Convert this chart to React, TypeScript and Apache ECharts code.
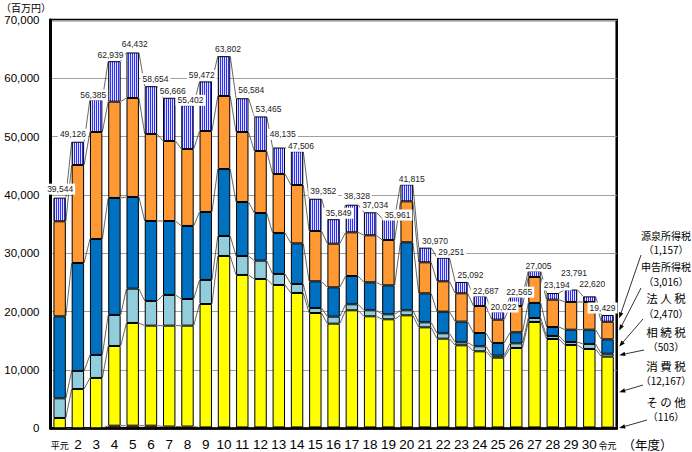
import React, { useEffect, useRef } from "react";
import * as echarts from "echarts";

const categories = ["平元", "2", "3", "4", "5", "6", "7", "8", "9", "10", "11", "12", "13", "14", "15", "16", "17", "18", "19", "20", "21", "22", "23", "24", "25", "26", "27", "28", "29", "30", "令元"];

// 百万円
const other = [0, 0, 0, 450, 450, 450, 300, 300, 150, 150, 150, 150, 150, 150, 150, 150, 150, 150, 150, 150, 150, 150, 150, 150, 150, 150, 150, 150, 150, 150, 116];
const consumption = [1770, 6740, 8630, 13660, 17610, 17150, 17300, 17300, 21160, 29390, 26140, 25450, 24420, 23050, 19620, 17790, 20080, 19050, 18540, 19220, 17160, 15220, 14080, 13050, 11960, 13620, 18080, 15160, 14140, 13450, 12167];
const inheritance = [3370, 3090, 3940, 5320, 5880, 4230, 5260, 4570, 4120, 3430, 3250, 3140, 1890, 1540, 860, 1200, 1030, 1030, 850, 860, 860, 920, 510, 860, 350, 800, 680, 520, 510, 860, 503];
const corporate = [14060, 18510, 19890, 20060, 15720, 13710, 12680, 12520, 11660, 11490, 9260, 8170, 7030, 6970, 4570, 5030, 4850, 4800, 4970, 11660, 4970, 3710, 3550, 2280, 2170, 1890, 2580, 1540, 2110, 2450, 2470];
const selfAssessed = [16290, 16800, 18340, 16510, 16970, 14920, 13720, 13200, 13880, 12510, 12000, 10630, 10110, 10000, 8630, 7480, 7490, 8060, 7780, 7020, 5320, 5200, 4850, 4630, 4000, 4510, 4450, 4690, 4750, 4750, 3016];
const withholding = [4054, 3986, 5585, 6939, 7802, 8194, 7406, 7512, 8502, 6832, 5784, 5925, 4535, 5796, 5522, 4199, 4728, 3944, 3671, 2905, 2510, 4051, 1952, 1717, 1392, 1595, 1065, 1134, 2131, 960, 1157];

const yTicks = [0, 10000, 20000, 30000, 40000, 50000, 60000, 70000];

// label placement (layout only)
const labelOffsets: number[][] = [[0.5, -3], [-5, -2], [-3, 1], [-4, -1], [2, -2.5], [4.5, -2], [3.5, -1], [3, 0.7], [-4, -0.5], [4, -2], [9, -2.4], [8, -1.6], [4, -7.7], [4, 0.6], [8, -2], [5, -0.5], [5, -3], [5, -1.6], [9, 2], [5, 0.3], [10, -1], [8, 0], [9, -1.4], [6, 0.6], [5.5, 1], [3, 1], [4, 0.8], [4, -2.5], [3, -11], [3, -6.8], [-5, -1.5]];

const fmt = (v: number) => Math.round(v).toLocaleString("en-US");
const LATIN = "'Liberation Sans', Arial, sans-serif";
const JP = "'Noto Sans CJK JP', sans-serif";

export default function App() {
  const ref = useRef<HTMLDivElement>(null);
  useEffect(() => {
    if (!ref.current) return;
    const chart = echarts.init(ref.current, undefined, { renderer: "svg" });

    const cv = document.createElement("canvas");
    cv.width = 2;
    cv.height = 4;
    const ctx = cv.getContext("2d")!;
    ctx.fillStyle = "#E0E0FF";
    ctx.fillRect(0, 0, 2, 4);
    ctx.fillStyle = "#2E2EFF";
    ctx.fillRect(0, 0, 1, 4);
    const hatch: any = { image: cv, repeat: "repeat", imageWidth: 2, imageHeight: 4 };

    const defs = [
      { name: "その他", data: other, color: "#993366" },
      { name: "消費税", data: consumption, color: "#FFFF00" },
      { name: "相続税", data: inheritance, color: "#92CDDC" },
      { name: "法人税", data: corporate, color: "#0070C0" },
      { name: "申告所得税", data: selfAssessed, color: "#FF9933" },
      { name: "源泉所得税", data: withholding, color: hatch },
    ];
    const n = categories.length;
    const cum: number[][] = [];
    let run = new Array(n).fill(0);
    defs.forEach((d) => {
      run = run.map((v, i) => v + d.data[i]);
      cum.push(run.slice());
    });
    const totals = cum[cum.length - 1];

    const lineData: number[][] = [];
    for (let i = 0; i < n - 1; i++) {
      lineData.push([i, ...cum.map((c) => c[i]), ...cum.map((c) => c[i + 1])]);
    }

    const barSeries = defs.map((d, k) => ({
      type: "bar",
      name: d.name,
      stack: "tax",
      barCategoryGap: "32%",
      itemStyle: { color: d.color, borderColor: "#000", borderWidth: 1 },
      data:
        k === defs.length - 1
          ? d.data.map((v, i) => ({ value: v, label: { offset: labelOffsets[i] } }))
          : d.data,
      label:
        k === defs.length - 1
          ? {
              show: true,
              position: "top",
              distance: 0,
              formatter: (p: any) => fmt(totals[p.dataIndex]),
              fontSize: 8.5,
              fontFamily: LATIN,
              color: "#222",
              backgroundColor: "#fff",
              padding: [1, 2],
            }
          : { show: false },
      z: 2,
    }));

    const option: any = {
      animation: false,
      grid: { left: 50.5, right: 75.3, top: 20, bottom: 23.7, show: true, borderColor: "#000", borderWidth: 2.5, backgroundColor: "transparent" },
      xAxis: {
        type: "category",
        data: categories,
        name: "（年度）",
        nameLocation: "end",
        nameGap: 3,
        nameTextStyle: { fontSize: 12.5, lineHeight: 12.5, fontFamily: JP, color: "#000", verticalAlign: "top", padding: [10, 0, 0, 0] },
        axisTick: { show: false },
        axisLine: { lineStyle: { color: "#000", width: 2.5 } },
        axisLabel: {
          interval: 0,
          margin: 9,
          fontSize: 13.5,
          fontFamily: LATIN,
          color: "#000",
          formatter: (v: string) => (v === "平元" || v === "令元" ? `{s|${v}}` : v),
          rich: { s: { fontSize: 9, fontFamily: JP, color: "#000", padding: [4, 0, 0, 0] } },
        },
      },
      yAxis: {
        type: "value",
        min: yTicks[0],
        max: yTicks[yTicks.length - 1],
        interval: yTicks[1] - yTicks[0],
        axisLine: { show: true, lineStyle: { color: "#000", width: 3 } },
        axisTick: { show: false },
        splitLine: { lineStyle: { color: "#A0A0A0", width: 1 } },
        axisLabel: { margin: 11, fontSize: 11.5, fontFamily: LATIN, color: "#000", formatter: (v: number) => fmt(v) },
      },
      series: [
        ...barSeries,
        {
          type: "custom",
          silent: true,
          z: 1,
          encode: { x: 0, y: 1 },
          data: lineData,
          renderItem: (params: any, api: any) => {
            const i = api.value(0);
            const band = api.size([1, 0])[0];
            const half = (band * 0.68) / 2;
            const children: any[] = [];
            for (let k = 0; k < 6; k++) {
              const a = api.coord([i, api.value(1 + k)]);
              const b = api.coord([i + 1, api.value(7 + k)]);
              children.push({
                type: "line",
                shape: { x1: a[0] + half, y1: a[1], x2: b[0] - half, y2: b[1] },
                style: { stroke: "#404040", lineWidth: 0.8 },
              });
            }
            return { type: "group", children };
          },
        },
      ],
    };
    chart.setOption(option);

    // annotations for the latest year
    const last = n - 1;
    const annot = [
      { title: "源泉所得税", size: 10, k: 5, ty: 235, vy: 249, tail: [641, 255] },
      { title: "申告所得税", size: 10, k: 4, ty: 266, vy: 281, tail: [641, 288] },
      { title: "法 人 税", size: 11.5, k: 3, ty: 298, vy: 313, tail: [643, 319] },
      { title: "相 続 税", size: 11.5, k: 2, ty: 332, vy: 346, tail: [644, 350] },
      { title: "消 費 税", size: 11.5, k: 1, ty: 366, vy: 380, tail: [643, 385] },
      { title: "そ の 他", size: 11.5, k: 0, ty: 402, vy: 416, tail: [647, 420] },
    ];
    const tipX = 692 - 75.3 + 2.5;
    const graphics: any[] = [
      { type: "text", x: 1, y: 7, style: { text: "（百万円）", fontSize: 10, lineHeight: 10, fontFamily: JP, fill: "#000", verticalAlign: "middle", textVerticalAlign: "middle" } },
    ];
    annot.forEach((a) => {
      const lo = a.k === 0 ? 0 : cum[a.k - 1][last];
      const hi = cum[a.k][last];
      const p = chart.convertToPixel({ xAxisIndex: 0, yAxisIndex: 0 }, [last, (lo + hi) / 2]) as number[];
      const tx = tipX;
      const ty = p[1];
      const sx = a.tail[0];
      const sy = a.tail[1];
      const len = Math.hypot(tx - sx, ty - sy);
      const dx = (tx - sx) / len;
      const dy = (ty - sy) / len;
      const L = 6, W = 2.2;
      graphics.push({ type: "text", x: 666, y: a.ty, style: { text: a.title, fontSize: a.size, lineHeight: a.size, fontFamily: JP, fill: "#000", align: "center", textAlign: "center", verticalAlign: "middle", textVerticalAlign: "middle" } });
      graphics.push({ type: "text", x: 666, y: a.vy, style: { text: `（${fmt(defs[a.k].data[last])}）`, fontSize: 10, lineHeight: 10, fontFamily: JP, fill: "#000", align: "center", textAlign: "center", verticalAlign: "middle", textVerticalAlign: "middle" } });
      graphics.push({ type: "line", shape: { x1: sx, y1: sy, x2: tx - dx * L * 0.8, y2: ty - dy * L * 0.8 }, style: { stroke: "#000", lineWidth: 0.8 } });
      graphics.push({
        type: "polygon",
        shape: { points: [[tx, ty], [tx - dx * L - dy * W, ty - dy * L + dx * W], [tx - dx * L + dy * W, ty - dy * L - dx * W]] },
        style: { fill: "#000" },
      });
    });
    chart.setOption({ graphic: graphics });

    return () => chart.dispose();
  }, []);
  return <div ref={ref} style={{ position: "absolute", left: 0, top: 0, width: 692, height: 452 }} />;
}
